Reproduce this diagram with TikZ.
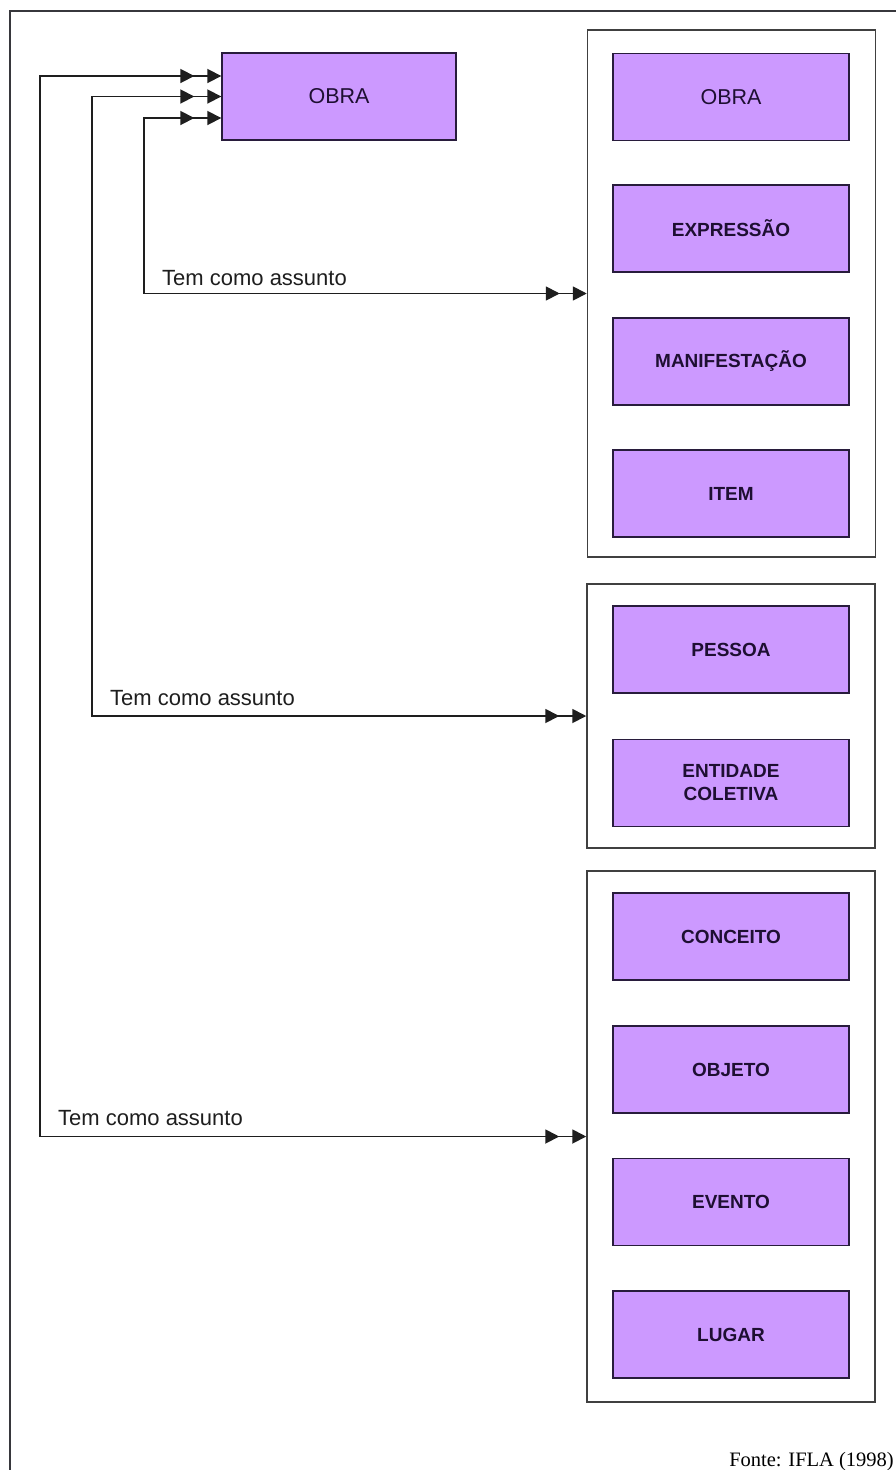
\documentclass[tikz,border=0pt]{standalone}
\usepackage{fontspec}
\setmainfont{Liberation Serif}
\newfontfamily\arialf{Liberation Sans}
\usetikzlibrary{arrows.meta}
\definecolor{boxfill}{RGB}{204,153,255}
\definecolor{boxline}{RGB}{40,28,60}
\definecolor{linec}{RGB}{30,30,30}
\definecolor{txtc}{RGB}{30,15,50}
\definecolor{framec}{RGB}{55,55,60}
\begin{document}
\begin{tikzpicture}[x=1pt,y=-1pt,
  ent/.style={draw=boxline, fill=boxfill, line width=1.4pt, minimum width=236pt, minimum height=87pt, inner sep=0pt, text=txtc, font=\arialf\fontsize{19}{23}\selectfont\bfseries, align=center},
  entr/.style={ent, font=\arialf\fontsize{21.5}{25}\selectfont},
  grp/.style={draw=linec!85, line width=1.5pt, minimum width=288pt, inner sep=0pt},
  conn/.style={draw=linec, line width=1.8pt, {Triangle[length=14pt,width=14pt]}-{Triangle[length=14pt,width=14pt]},
    postaction={draw=linec, line width=1.8pt, shorten <=27pt, shorten >=27pt, {Triangle[length=14pt,width=14pt]}-{Triangle[length=14pt,width=14pt]}}},
  lbl/.style={font=\arialf\fontsize{22}{26}\selectfont, text=linec, anchor=base west, inner sep=0pt}
]
\useasboundingbox (0,0) rectangle (896,1470);
\fill[white] (0,0) rectangle (896,1470);
\draw[framec, line width=2.8pt] (10,1490) -- (10,11) -- (910,11);

% top OBRA
\node[entr, minimum width=234pt] (obra) at (339,96.5) {OBRA};

% groups
\node[grp, minimum height=527pt] (g1) at (731.5,293.5) {};
\node[grp, minimum height=264pt] (g2) at (731,716) {};
\node[grp, minimum height=531pt] (g3) at (731,1136.5) {};

% group 1
\node[entr] (g1a) at (731,97) {OBRA};
\node[ent] (g1b) at (731,228.5) {EXPRESSÃO};
\node[ent] (g1c) at (731,361.5) {MANIFESTAÇÃO};
\node[ent] (g1d) at (731,493.5) {ITEM};
% group 2
\node[ent] (g2a) at (731,649.5) {PESSOA};
\node[ent] (g2b) at (731,783) {ENTIDADE\\COLETIVA};
% group 3
\node[ent] (g3a) at (731,936.5) {CONCEITO};
\node[ent] (g3b) at (731,1069.5) {OBJETO};
\node[ent] (g3c) at (731,1202) {EVENTO};
\node[ent] (g3d) at (731,1334.5) {LUGAR};

% connectors
\coordinate (k1) at (144,293.5);
\coordinate (k2) at (92,716);
\coordinate (k3) at (40,1136.5);
\draw[conn] ([yshift=-21.5pt]obra.west) -| (k1) -- (g1.west);
\draw[conn] (obra.west) -| (k2) -- (g2.west);
\draw[conn] ([yshift=20.5pt]obra.west) -| (k3) -- (g3.west);

% labels
\node[lbl] (t1) at (162,285) {Tem como assunto};
\node[lbl] (t2) at (110,705) {Tem como assunto};
\node[lbl] (t3) at (58,1125) {Tem como assunto};

\node[font=\fontsize{20.5}{24}\selectfont, anchor=base east, inner sep=0pt] (src) at (894,1466) {Fonte: IFLA (1998)};
\end{tikzpicture}
\end{document}
